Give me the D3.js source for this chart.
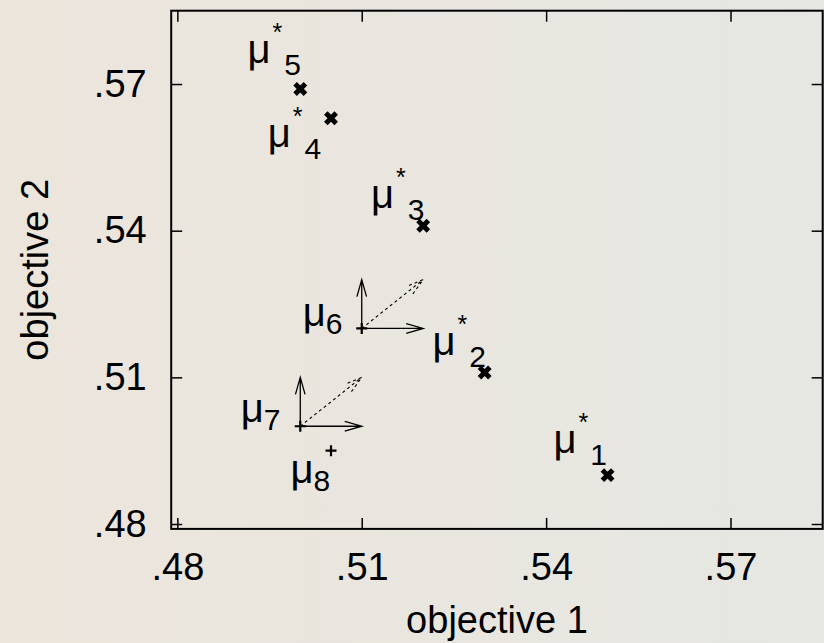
<!DOCTYPE html>
<meta charset="utf-8">
<head>
    <title>objective 1 vs objective 2</title>
    <script src="https://d3js.org/d3.v7.min.js"></script>
</head>

<style>
body { margin: 0; }
svg { display: block; }
text { font-family: "Liberation Sans", Arial, Helvetica, sans-serif; fill: #000; }
</style>

<body>

<svg></svg>

<script>

// optimal points mu*_k (drawn as bold crosses)
let optNames = ["1", "2", "3", "4", "5"];
let optX = [0.550, 0.530, 0.520, 0.505, 0.500];
let optY = [0.490, 0.511, 0.541, 0.563, 0.569];
// label anchors (left edge, baseline of mu) in data units
let optLabelX = [0.5412, 0.5215, 0.5115, 0.4947, 0.4914];
let optLabelY = [0.4945, 0.5146, 0.5446, 0.5572, 0.5742];

// other points mu_k (drawn as small plus signs)
let ptNames = ["6", "7", "8"];
let ptX = [0.510, 0.500, 0.505];
let ptY = [0.520, 0.500, 0.495];
let ptLabelX = [0.5004, 0.4903, 0.4984];
let ptLabelY = [0.5204, 0.5009, 0.4884];

// direction arrows: start x, start y, end x, end y, dashed?
let arrowX0 = [0.510, 0.510, 0.510, 0.500, 0.500, 0.500];
let arrowY0 = [0.520, 0.520, 0.520, 0.500, 0.500, 0.500];
let arrowX1 = [0.510, 0.520, 0.520, 0.500, 0.510, 0.510];
let arrowY1 = [0.530, 0.520, 0.530, 0.510, 0.500, 0.510];
let arrowDashed = [false, false, true, false, false, true];

let tickValues = [0.48, 0.51, 0.54, 0.57];
let domain = [0.479, 0.585];

let W = 824, H = 643;
let margin = {top: 10.7, right: 1.3, bottom: 114.1, left: 171.2};
let width = W - margin.left - margin.right;
let height = H - margin.top - margin.bottom;

let svg = d3.select("svg")
    .attr("width", W)
    .attr("height", H);

// soft background gradient
let grad = svg.append("defs").append("linearGradient")
    .attr("id", "bg")
    .attr("x1", "0").attr("x2", "1").attr("y1", "0").attr("y2", "0");
grad.append("stop").attr("offset", "0").attr("stop-color", "#ece5dc");
grad.append("stop").attr("offset", "1").attr("stop-color", "#e6e7e2");
svg.append("rect")
    .attr("width", W).attr("height", H)
    .attr("fill", "url(#bg)");

let g = svg.append("g")
    .attr("transform", "translate(" + margin.left + "," + margin.top + ")");

let x = d3.scaleLinear().domain(domain).range([0, width]);
let y = d3.scaleLinear().domain(domain).range([height, 0]);

let fmt = function(d) { return d3.format(".2f")(d).replace(/^0/, ""); };

// axes with inward ticks
function styleAxis(sel) {
  sel.select(".domain").remove();
  sel.selectAll(".tick line").attr("stroke", "#000").attr("stroke-width", 1.5);
  sel.selectAll(".tick text").style("font-size", "38px");
}

g.append("g")
  .attr("transform", "translate(0," + height + ")")
  .call(d3.axisBottom(x).tickValues(tickValues).tickFormat(fmt)
        .tickSizeInner(-11).tickSizeOuter(0).tickPadding(24))
  .call(styleAxis);

g.append("g")
  .call(d3.axisLeft(y).tickValues(tickValues).tickFormat(fmt)
        .tickSizeInner(-11).tickSizeOuter(0).tickPadding(24.5))
  .call(styleAxis);

g.append("g")
  .call(d3.axisTop(x).tickValues(tickValues).tickFormat("")
        .tickSizeInner(-11).tickSizeOuter(0))
  .call(styleAxis);

g.append("g")
  .attr("transform", "translate(" + width + ",0)")
  .call(d3.axisRight(y).tickValues(tickValues).tickFormat("")
        .tickSizeInner(-11).tickSizeOuter(0))
  .call(styleAxis);

// frame
g.append("rect")
  .attr("width", width).attr("height", height)
  .attr("fill", "none").attr("stroke", "#000").attr("stroke-width", 2);

// axis titles
svg.append("text")
  .attr("x", margin.left + width / 2)
  .attr("y", 633)
  .attr("text-anchor", "middle")
  .style("font-size", "38px")
  .text("objective 1");

svg.append("text")
  .attr("transform", "translate(48," + (margin.top + height / 2) + ") rotate(-90)")
  .attr("text-anchor", "middle")
  .style("font-size", "38px")
  .text("objective 2");

// arrows
let arrows = arrowX0.map(function(d, i) {
  return {x0: x(d), y0: y(arrowY0[i]), x1: x(arrowX1[i]), y1: y(arrowY1[i]), dashed: arrowDashed[i]};
});

let headLen = 17, headHalf = 4.8;
arrows.forEach(function(a) {
  let dx = a.x1 - a.x0, dy = a.y1 - a.y0;
  let len = Math.sqrt(dx * dx + dy * dy);
  let ux = dx / len, uy = dy / len;
  let bx = a.x1 - ux * headLen, by = a.y1 - uy * headLen;
  let p = d3.path();
  p.moveTo(a.x0, a.y0);
  p.lineTo(a.x1, a.y1);
  p.moveTo(bx - uy * headHalf, by + ux * headHalf);
  p.lineTo(a.x1, a.y1);
  p.lineTo(bx + uy * headHalf, by - ux * headHalf);
  g.append("path")
    .attr("d", p.toString())
    .attr("fill", "none")
    .attr("stroke", "#000")
    .attr("stroke-width", a.dashed ? 1.1 : 1.3)
    .attr("stroke-dasharray", a.dashed ? "3,3" : null);
});

// optimal points: bold crosses
g.selectAll(".opt")
  .data(optX)
  .enter()
  .append("path")
  .attr("class", "opt")
  .attr("transform", function(d, i) { return "translate(" + x(d) + "," + y(optY[i]) + ")"; })
  .attr("d", "M-5.2,-5.2L5.2,5.2M-5.2,5.2L5.2,-5.2")
  .attr("stroke", "#000")
  .attr("stroke-width", 5);

// other points: plus signs
g.selectAll(".pt")
  .data(ptX)
  .enter()
  .append("path")
  .attr("class", "pt")
  .attr("transform", function(d, i) { return "translate(" + x(d) + "," + y(ptY[i]) + ")"; })
  .attr("d", "M-5.5,0H5.5M0,-5.5V5.5")
  .attr("stroke", "#000")
  .attr("stroke-width", 2.2);

// labels mu*_k
let optLabels = g.selectAll(".optLabel")
  .data(optNames)
  .enter()
  .append("text")
  .attr("class", "optLabel")
  .attr("x", function(d, i) { return x(optLabelX[i]); })
  .attr("y", function(d, i) { return y(optLabelY[i]); })
  .style("font-size", "40px");
optLabels.append("tspan").text("μ");
optLabels.append("tspan").attr("dx", 2).attr("dy", -22).style("font-size", "25px").text("*");
optLabels.append("tspan").attr("dx", 2).attr("dy", 34).style("font-size", "30px").text(function(d) { return d; });

// labels mu_k
let ptLabels = g.selectAll(".ptLabel")
  .data(ptNames)
  .enter()
  .append("text")
  .attr("class", "ptLabel")
  .attr("x", function(d, i) { return x(ptLabelX[i]); })
  .attr("y", function(d, i) { return y(ptLabelY[i]); })
  .style("font-size", "40px");
ptLabels.append("tspan").text("μ");
ptLabels.append("tspan").attr("dy", 8).style("font-size", "30px").text(function(d) { return d; });

</script>

</body>
